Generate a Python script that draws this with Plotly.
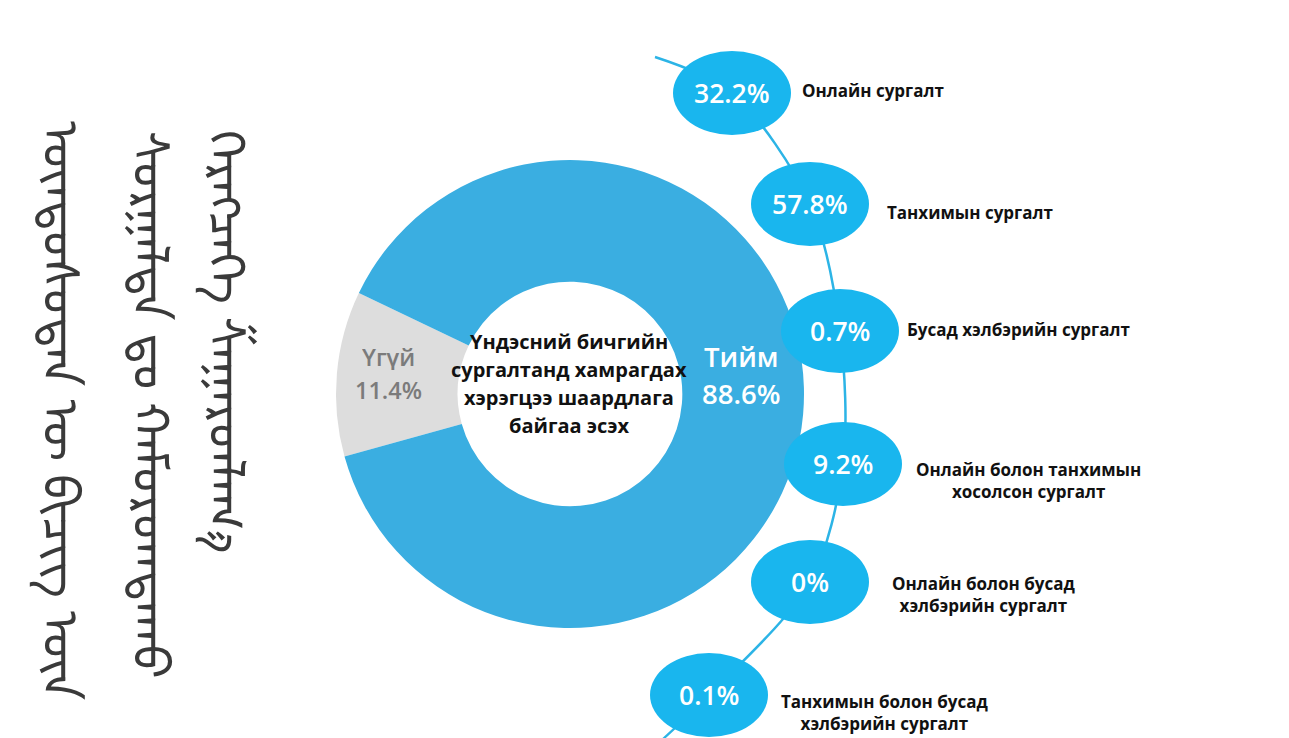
import plotly.graph_objects as go

# ---- data ----
donut_labels = ["Үгүй", "Тийм"]
donut_values = [11.4, 88.6]
center_lines = ["Үндэсний бичгийн", "сургалтанд хамрагдах", "хэрэгцээ шаардлага", "байгаа эсэх"]

form_values = [32.2, 57.8, 0.7, 9.2, 0.0, 0.1]
form_labels = [
    "Онлайн сургалт",
    "Танхимын сургалт",
    "Бусад хэлбэрийн сургалт",
    "Онлайн болон танхимын<br>хосолсон сургалт",
    "Онлайн болон бусад<br>хэлбэрийн сургалт",
    "Танхимын болон бусад<br>хэлбэрийн сургалт",
]
mongol_columns = [
    "ᠦᠨᠳᠦᠰᠦᠲᠡᠨ ᠦ ᠪᠢᠴᠢᠭ ᠦᠨ",
    "ᠰᠤᠷᠭᠠᠯᠲᠠ ᠳᠤ ᠬᠠᠮᠤᠷᠤᠭᠳᠠᠬᠤ",
    "ᠬᠡᠷᠡᠭᠴᠡᠭᠡ ᠱᠠᠭᠠᠷᠳᠯᠠᠭ᠎ᠠ",
]

# ---- layout (screen pixel space; page body has an 8px margin) ----
W, H = 1289, 738
OFF = 8
pie_cx, pie_cy, pie_r = 570, 394, 234
donut_label_pos = [(388, 356, 389), (741, 357, 394)]  # x, y of name line, y of value line
donut_label_size = [23.5, 27.5]
donut_label_color = ["#7b7b7b", "white"]
bubble_pos = [(732, 93), (810, 204), (840, 331), (843, 464), (810, 582), (709, 695)]
bubble_w, bubble_h = 118, 84
label_pos = [(800, 90, "left"), (885, 212, "left"), (905, 329, "left"),
             (1028, 480, "center"), (983, 594, "center"), (884, 712, "center")]
center_y = [341, 369, 397, 425]
center_x = 569
mongol_x = [72, 162, 238]
mongol_y = [410, 405, 342]

BLUE = "#3aaee1"
CYAN = "#19b6ee"
GRAY = "#dddddd"
FONT = "Open Sans"

fig = go.Figure()

# connector line through bubbles
line_x = [655] + [p[0] for p in bubble_pos] + [640]
line_y = [57] + [p[1] for p in bubble_pos] + [760]
fig.add_trace(go.Scatter(x=line_x, y=line_y, mode="lines",
                         line=dict(color="#2cb4e6", width=2.5, shape="spline", smoothing=0.9),
                         hoverinfo="skip", showlegend=False))

fig.add_trace(go.Pie(
    labels=donut_labels, values=donut_values, sort=False, direction="clockwise",
    rotation=-105.5, hole=0.48,
    marker=dict(colors=[GRAY, BLUE], line=dict(width=0)),
    textinfo="none",
    domain=dict(x=[(pie_cx - pie_r - OFF) / W, (pie_cx + pie_r - OFF) / W],
                y=[1 - (pie_cy + pie_r - OFF) / H, 1 - (pie_cy - pie_r - OFF) / H]),
    showlegend=False, hoverinfo="label+value",
))

shapes = []
annotations = []

for (lx, ly1, ly2), name, v, sz, col in zip(donut_label_pos, donut_labels, donut_values,
                                             donut_label_size, donut_label_color):
    for yy, t in ((ly1, name), (ly2, f"{v:.1f}%")):
        annotations.append(dict(x=lx, y=yy, xref="x", yref="y", showarrow=False, text=t,
                                height=sz * 1.15, valign="middle",
                                font=dict(family=FONT, size=sz, color=col, weight=600)))

for (bx, by), v in zip(bubble_pos, form_values):
    shapes.append(dict(type="circle", xref="x", yref="y",
                       x0=bx - bubble_w / 2, x1=bx + bubble_w / 2,
                       y0=by - bubble_h / 2, y1=by + bubble_h / 2,
                       fillcolor=CYAN, line=dict(width=0), layer="above"))
    annotations.append(dict(x=bx, y=by, xref="x", yref="y", showarrow=False,
                            text=f"{v:g}%", font=dict(family=FONT, size=26.5, color="white", weight=600)))

for (lx, ly, al), t in zip(label_pos, form_labels):
    annotations.append(dict(x=lx, y=ly, xref="x", yref="y", showarrow=False,
                            xanchor="left" if al == "left" else "center", align=al,
                            text=t, font=dict(family=FONT, size=17, color="#111111", weight="bold")))

for cy, t in zip(center_y, center_lines):
    annotations.append(dict(x=center_x, y=cy, xref="x", yref="y", showarrow=False,
                            text=t, font=dict(family=FONT, size=20, color="#111111", weight="bold")))

for mx, my, t in zip(mongol_x, mongol_y, mongol_columns):
    annotations.append(dict(x=mx, y=my, xref="x", yref="y", showarrow=False,
                            text=t, textangle=90,
                            font=dict(family="Noto Sans Mongolian, Noto Sans, serif", size=50, color="#3a3a3a")))

fig.update_layout(
    width=W, height=H, margin=dict(l=0, r=0, t=0, b=0),
    paper_bgcolor="white", plot_bgcolor="white",
    xaxis=dict(range=[OFF, W + OFF], visible=False, fixedrange=True),
    yaxis=dict(range=[H + OFF, OFF], visible=False, fixedrange=True),
    shapes=shapes, annotations=annotations,
)

fig.write_html("out.html")
